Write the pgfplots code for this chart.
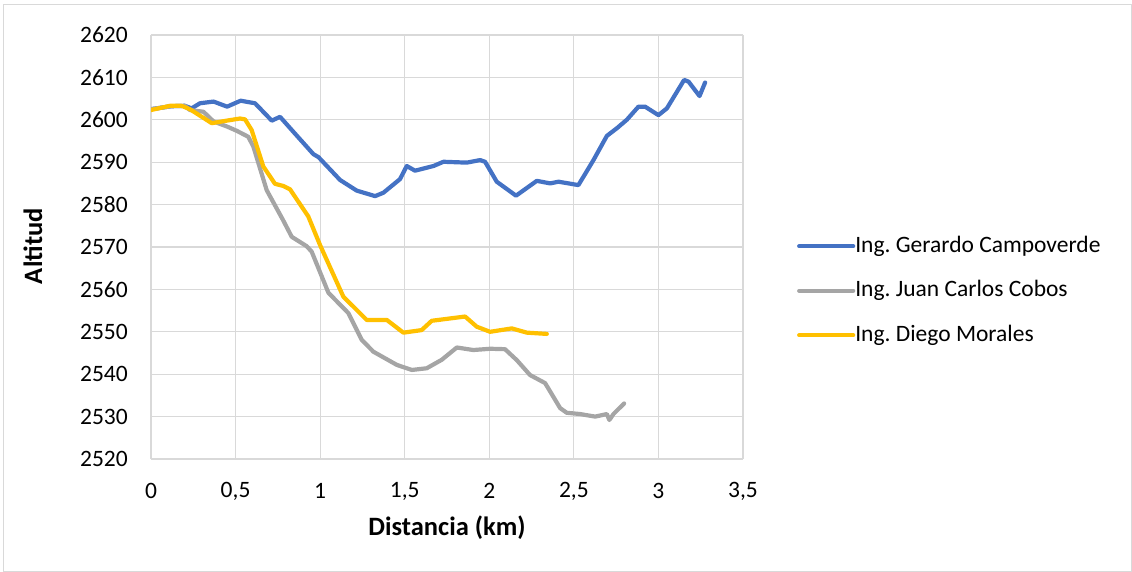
\documentclass[border=0pt]{standalone}
\usepackage{pgfplots}
\pgfplotsset{compat=1.18}
\usepackage{fontspec}
\setmainfont{Carlito}
\definecolor{cblue}{RGB}{68,114,196}
\definecolor{cgray}{RGB}{165,165,165}
\definecolor{cyellow}{RGB}{255,192,0}
\definecolor{cgrid}{RGB}{217,217,217}
\begin{document}
\frenchspacing
\begin{tikzpicture}
\useasboundingbox (0,0) rectangle (1132bp,572bp);
\draw[cgrid, line width=1bp] (3bp,0.5bp) rectangle (1131.5bp,567bp);
\begin{axis}[
  at={(151bp,113bp)}, anchor=south west,
  scale only axis, width=592bp, height=424bp,
  xmin=0, xmax=3.5, ymin=2520, ymax=2620,
  xtick={0,0.5,...,3.5}, ytick={2520,2530,...,2620},
  grid=major, grid style={cgrid, line width=1.1bp},
  axis line style={draw=none},
  major tick length=0pt,
  /pgf/number format/assume math mode=true,
  /pgf/number format/use comma,
  /pgf/number format/1000 sep={},
  tick label style={font=\fontsize{23.5bp}{28bp}\selectfont, text=black},
  xticklabel style={anchor=center, yshift=-32bp},
  yticklabel style={anchor=east, inner sep=0pt, xshift=-23bp},
  xlabel={\textbf{Distancia (km)}},
  ylabel={\textbf{Altitud}},
  label style={font=\fontsize{26.5bp}{31bp}\selectfont},
  xlabel style={at={(axis description cs:0.5,0)}, anchor=center, yshift=-69bp},
  ylabel style={at={(axis description cs:-0.1993,0.502)}, anchor=center},
  legend style={draw=none, fill=none, at={(1.086,0.397)}, anchor=west,
    font=\fontsize{23.5bp}{28bp}\selectfont, row sep=22.5bp,
    nodes={text height=17bp, text depth=5bp, inner sep=0pt},
    /tikz/every even column/.append style={column sep=6bp}},
  legend cell align=left,
  legend image code/.code={\draw[#1] (0bp,0bp) -- (54bp,0bp);},
  every axis plot/.append style={line width=4.2bp, line join=round, line cap=round},
]
\addplot[cblue, mark=none] coordinates {
(0,2602.5) (0.12,2603.2) (0.2,2603.3) (0.24,2602.7) (0.29,2603.9) (0.37,2604.3) (0.45,2603.1) (0.53,2604.5) (0.615,2603.9) (0.714,2599.8) (0.763,2600.7) (0.832,2597.6) (0.96,2591.9) (0.99,2591.2) (1.118,2585.8) (1.216,2583.3) (1.325,2582.0) (1.374,2582.8) (1.472,2586.0) (1.512,2589.1) (1.561,2588.0) (1.67,2589.1) (1.729,2590.1) (1.867,2589.9) (1.946,2590.5) (1.975,2590.1) (2.044,2585.4) (2.158,2582.1) (2.281,2585.6) (2.36,2585.0) (2.409,2585.4) (2.527,2584.6) (2.616,2590.5) (2.695,2596.2) (2.754,2598.0) (2.813,2600.0) (2.882,2603.1) (2.921,2603.1) (3.0,2601.1) (3.05,2602.7) (3.152,2609.4) (3.178,2609.0) (3.243,2605.6) (3.276,2608.8)
};
\addlegendentry{Ing. Gerardo Campoverde}
\addplot[cgray, mark=none] coordinates {
(0,2602.5) (0.12,2603.2) (0.2,2603.3) (0.23,2602.3) (0.31,2601.9) (0.37,2599.6) (0.45,2598.4) (0.507,2597.4) (0.575,2596.0) (0.605,2593.7) (0.684,2583.4) (0.78,2576.4) (0.832,2572.4) (0.92,2570.2) (0.95,2568.9) (1.049,2559.2) (1.167,2554.4) (1.246,2548.1) (1.315,2545.3) (1.453,2542.2) (1.542,2541.0) (1.63,2541.4) (1.719,2543.4) (1.808,2546.3) (1.906,2545.7) (2.005,2546.0) (2.093,2545.9) (2.163,2543.3) (2.241,2539.8) (2.33,2537.9) (2.419,2532.0) (2.458,2530.9) (2.537,2530.6) (2.626,2530.0) (2.695,2530.6) (2.71,2529.2) (2.734,2530.6) (2.797,2533.1)
};
\addlegendentry{Ing. Juan Carlos Cobos}
\addplot[cyellow, mark=none] coordinates {
(0,2602.3) (0.112,2603.3) (0.18,2603.3) (0.23,2602.5) (0.359,2599.2) (0.448,2599.8) (0.526,2600.3) (0.556,2600.1) (0.595,2597.6) (0.664,2589.0) (0.733,2584.9) (0.782,2584.4) (0.822,2583.6) (0.93,2577.2) (0.999,2570.5) (1.137,2558.3) (1.275,2552.8) (1.394,2552.8) (1.492,2549.8) (1.6,2550.4) (1.66,2552.6) (1.857,2553.6) (1.926,2551.2) (2.005,2550.0) (2.133,2550.8) (2.222,2549.8) (2.34,2549.5)
};
\addlegendentry{Ing. Diego Morales}
\end{axis}
\end{tikzpicture}
\end{document}
